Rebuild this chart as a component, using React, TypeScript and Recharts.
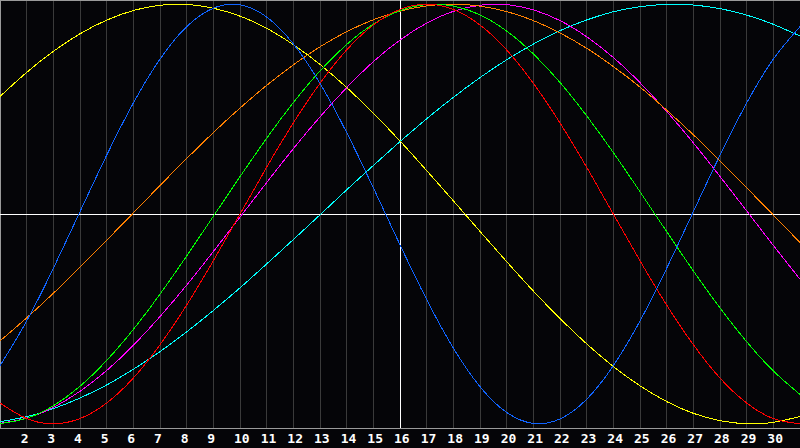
import React from 'react';
import {
  LineChart,
  Line,
  XAxis,
  YAxis,
  CartesianGrid,
  ReferenceLine,
} from 'recharts';

// days of the month shown on the x axis
const days = [
  1, 2, 3, 4, 5, 6, 7, 8, 9, 10, 11, 12, 13, 14, 15, 16, 17, 18, 19, 20, 21,
  22, 23, 24, 25, 26, 27, 28, 29, 30, 31,
];
const tickDays = [
  2, 3, 4, 5, 6, 7, 8, 9, 10, 11, 12, 13, 14, 15, 16, 17, 18, 19, 20, 21, 22,
  23, 24, 25, 26, 27, 28, 29, 30,
];

// cycle values, one per day
const physical = [
  -0.723, -0.51, -0.259, 0.011, 0.28, 0.529, 0.738, 0.893, 0.981, 0.997, 0.939,
  0.811, 0.623, 0.388, 0.125, -0.147, -0.408, -0.639, -0.823, -0.946, -0.998,
  -0.977, -0.883, -0.723, -0.51, -0.259, 0.011, 0.28, 0.529, 0.738, 0.893,
];
const emotional = [
  -0.901, -0.975, -1, -0.975, -0.901, -0.782, -0.623, -0.434, -0.223, 0, 0.223,
  0.434, 0.623, 0.782, 0.901, 0.975, 1, 0.975, 0.901, 0.782, 0.623, 0.434,
  0.223, 0, -0.223, -0.434, -0.623, -0.782, -0.901, -0.975, -1,
];
const intellectual = [
  -0.999, -0.974, -0.914, -0.821, -0.698, -0.55, -0.382, -0.2, -0.011, 0.178,
  0.361, 0.531, 0.682, 0.808, 0.905, 0.969, 0.998, 0.991, 0.949, 0.872, 0.763,
  0.627, 0.468, 0.293, 0.106, -0.084, -0.271, -0.448, -0.609, -0.748, -0.86,
];
const intuitive = [
  -0.998, -0.973, -0.922, -0.845, -0.746, -0.626, -0.489, -0.339, -0.179,
  -0.015, 0.15, 0.311, 0.463, 0.602, 0.726, 0.829, 0.91, 0.966, 0.995, 0.998,
  0.973, 0.922, 0.845, 0.746, 0.626, 0.489, 0.339, 0.179, 0.015, -0.15, -0.311,
];
const aesthetic = [
  0.56, 0.675, 0.775, 0.859, 0.924, 0.97, 0.995, 0.999, 0.981, 0.943, 0.885,
  0.807, 0.713, 0.603, 0.48, 0.348, 0.207, 0.063, -0.083, -0.227, -0.367,
  -0.498, -0.619, -0.727, -0.819, -0.894, -0.95, -0.985, -1, -0.993, -0.965,
];
const awareness = [
  -0.605, -0.495, -0.378, -0.254, -0.125, 0.005, 0.136, 0.264, 0.388, 0.505,
  0.613, 0.711, 0.797, 0.869, 0.926, 0.967, 0.992, 1, 0.991, 0.965, 0.922,
  0.863, 0.79, 0.703, 0.605, 0.495, 0.378, 0.254, 0.125, -0.005, -0.136,
];
const spiritual = [
  -0.99, -0.966, -0.928, -0.877, -0.815, -0.74, -0.656, -0.562, -0.46, -0.352,
  -0.238, -0.122, -0.004, 0.115, 0.231, 0.345, 0.454, 0.556, 0.65, 0.735, 0.81,
  0.874, 0.925, 0.964, 0.988, 0.999, 0.996, 0.979, 0.948, 0.904, 0.848,
];

const series = [
  { key: 'spiritual', color: '#00ffff' },
  { key: 'intuitive', color: '#ff00ff' },
  { key: 'awareness', color: '#ff8000' },
  { key: 'aesthetic', color: '#ffff00' },
  { key: 'intellectual', color: '#00ff00' },
  { key: 'emotional', color: '#ff0000' },
  { key: 'physical', color: '#1064ff' },
];

const data = days.map((day, i) => ({
  day,
  physical: physical[i],
  emotional: emotional[i],
  intellectual: intellectual[i],
  intuitive: intuitive[i],
  aesthetic: aesthetic[i],
  awareness: awareness[i],
  spiritual: spiritual[i],
}));

function DayTick({ x, y, payload }: any) {
  return (
    <text
      x={x - 6}
      y={y + 15}
      textAnchor="start"
      fill="#ffffff"
      fontSize={13}
      fontWeight="bold"
      fontFamily="'DejaVu Sans Mono', monospace"
    >
      {payload.value}
    </text>
  );
}

export default function App() {
  return (
    <div
      style={{
        position: 'fixed',
        left: 0,
        top: 0,
        width: 800,
        height: 448,
        background: '#050508',
      }}
    >
      <LineChart
        width={800}
        height={448}
        data={data}
        margin={{ top: 0, right: 0, left: 0, bottom: 0 }}
      >
        <CartesianGrid
          vertical
          horizontal={false}
          stroke="#3a3a3a"
          shapeRendering="crispEdges"
        />
        <XAxis
          dataKey="day"
          type="number"
          domain={[1, 31]}
          ticks={tickDays}
          interval={0}
          height={20}
          tickSize={0}
          tickMargin={0}
          tickLine={false}
          axisLine={{ stroke: '#9a9a9a', shapeRendering: 'crispEdges' }}
          tick={<DayTick />}
        />
        <YAxis hide domain={[-1.02, 1.02]} />
        <ReferenceLine x={1} stroke="#9a9a9a" strokeWidth={2} />
        <ReferenceLine y={1.02} stroke="#9a9a9a" strokeWidth={2} />
        <ReferenceLine x={16} stroke="#ffffff" shapeRendering="crispEdges" />
        <ReferenceLine y={0} stroke="#ffffff" shapeRendering="crispEdges" />
        {series.map((s) => (
          <Line
            key={s.key}
            type="natural"
            dataKey={s.key}
            stroke={s.color}
            strokeWidth={1}
            dot={false}
            activeDot={false}
            shapeRendering="crispEdges"
            isAnimationActive={false}
          />
        ))}
      </LineChart>
    </div>
  );
}
